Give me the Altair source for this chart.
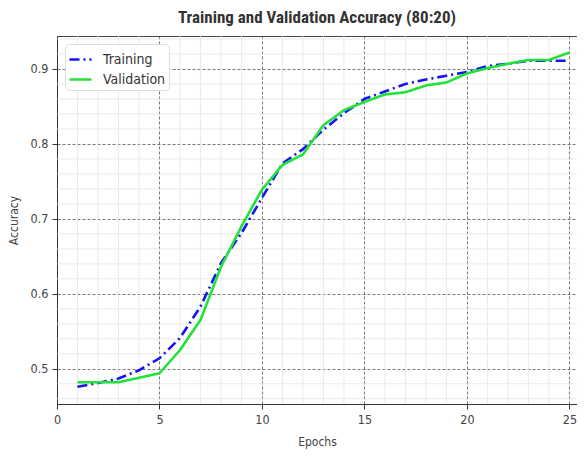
import altair as alt
import pandas as pd

epochs = list(range(1, 26))
training = [0.476, 0.481, 0.487, 0.498, 0.514, 0.541, 0.583, 0.641, 0.681, 0.728,
            0.774, 0.793, 0.819, 0.841, 0.860, 0.870, 0.880, 0.886, 0.891, 0.896,
            0.904, 0.907, 0.911, 0.911, 0.911]
validation = [0.482, 0.482, 0.482, 0.488, 0.494, 0.525, 0.565, 0.636, 0.690, 0.739,
              0.772, 0.786, 0.825, 0.845, 0.856, 0.866, 0.869, 0.878, 0.882, 0.894,
              0.901, 0.907, 0.912, 0.912, 0.922]
series_names = ["Training", "Validation"]
series_colors = ["#1414f5", "#22e23a"]

x_major = [0, 5, 10, 15, 20, 25]
y_major = [0.5, 0.6, 0.7, 0.8, 0.9]
x_minor = [v for v in range(0, 26) if v not in x_major]
y_minor = [0.46, 0.48, 0.52, 0.54, 0.56, 0.58, 0.62, 0.64, 0.66, 0.68, 0.72,
           0.74, 0.76, 0.78, 0.82, 0.84, 0.86, 0.88, 0.92, 0.94]

df = pd.DataFrame({
    "epoch": epochs * 2,
    "value": training + validation,
    "series": ["Training"] * len(epochs) + ["Validation"] * len(epochs),
})

FONT = "DejaVu Sans Condensed, DejaVu Sans, sans-serif"
xs = alt.Scale(domain=[0, 25.37], nice=False, zero=False)
ys = alt.Scale(domain=[0.453, 0.944], nice=False, zero=False)
x_axis = alt.Axis(values=x_major, format="d", title="Epochs", labelFlush=False)
y_axis = alt.Axis(values=y_major, format=".1f", title="Accuracy", labelFlush=False)

minor_x = alt.Chart(pd.DataFrame({"epoch": x_minor})).mark_rule(
    color="#e4e4e4", strokeWidth=0.8
).encode(x=alt.X("epoch:Q", scale=xs, axis=x_axis, title="Epochs"))

minor_y = alt.Chart(pd.DataFrame({"value": y_minor})).mark_rule(
    color="#e4e4e4", strokeWidth=0.8
).encode(y=alt.Y("value:Q", scale=ys, axis=y_axis, title="Accuracy"))

lines = alt.Chart(df).mark_line(strokeWidth=2.6, clip=True).encode(
    x=alt.X("epoch:Q", scale=xs, axis=x_axis, title="Epochs"),
    y=alt.Y("value:Q", scale=ys, axis=y_axis, title="Accuracy"),
    color=alt.Color("series:N",
                    scale=alt.Scale(domain=series_names, range=series_colors),
                    legend=alt.Legend(title=None, orient="none", legendX=8, legendY=8)),
    strokeDash=alt.StrokeDash("series:N",
                              scale=alt.Scale(domain=series_names,
                                              range=[[10, 4, 2, 4], [1, 0]]),
                              legend=alt.Legend(title=None, orient="none", legendX=8, legendY=8)),
)

chart = alt.layer(minor_x, minor_y, lines).properties(
    width=520,
    height=368,
    autosize=alt.AutoSizeParams(type="none"),
    padding={"left": 49, "top": 28, "right": 0, "bottom": 46},
    title=alt.TitleParams(
        "Training and Validation Accuracy (80:20)",
        font="Liberation Sans Narrow, Roboto Condensed, Arial Narrow, sans-serif",
        fontSize=17, fontWeight="bold", color="#333333", offset=9, anchor="middle",
    ),
).configure_view(
    stroke="#444444", strokeWidth=1
).configure_axis(
    labelFont=FONT, labelFontSize=12.5, labelColor="#444444",
    titleFont=FONT, titleFontSize=12, titleColor="#444444", titleFontWeight="normal",
    domainColor="#333333", domainWidth=1,
    tickColor="#333333", tickSize=5,
    grid=True, gridColor="#555555", gridDash=[3, 2], gridWidth=0.8,
).configure_axisX(
    labelPadding=4, titlePadding=11
).configure_axisY(
    labelPadding=4, titlePadding=10
).configure_legend(
    labelFont=FONT, labelFontSize=14, labelColor="#333333",
    symbolType="stroke", symbolSize=484, symbolStrokeWidth=2.6,
    strokeColor="#dddddd", fillColor="white", cornerRadius=4,
    padding=3, rowPadding=0, labelOffset=10,
)

chart.save("out.html", embed_options={"renderer": "svg", "actions": False})
